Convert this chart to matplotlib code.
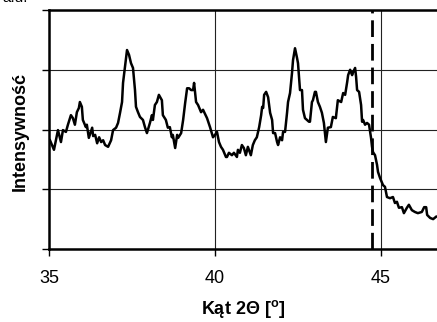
import matplotlib
matplotlib.use("Agg")
import matplotlib.pyplot as plt

plt.rcParams['font.family'] = ['Liberation Sans', 'DejaVu Sans']
plt.rcParams['mathtext.fontset'] = 'custom'
plt.rcParams['mathtext.rm'] = 'Liberation Sans'
plt.rcParams['mathtext.bf'] = 'Liberation Sans:bold'

# 2-theta angle [deg]
angle = [35.03, 35.15, 35.27, 35.36, 35.42, 35.51, 35.57, 35.66, 35.72, 35.78,
         35.84, 35.90, 35.93, 35.99, 36.02, 36.11, 36.14, 36.20, 36.30, 36.33,
         36.39, 36.45, 36.51, 36.57, 36.63, 36.69, 36.78, 36.87, 36.93, 37.02,
         37.08, 37.14, 37.20, 37.23, 37.29, 37.35, 37.41, 37.47, 37.53, 37.59,
         37.62, 37.68, 37.74, 37.83, 37.89, 37.95, 38.04, 38.10, 38.13, 38.19,
         38.25, 38.31, 38.40, 38.43, 38.52, 38.58, 38.64, 38.70, 38.73, 38.80,
         38.86, 38.89, 38.98, 39.04, 39.10, 39.16, 39.22, 39.28, 39.34, 39.37,
         39.43, 39.49, 39.58, 39.64, 39.76, 39.85, 39.94, 40.00, 40.06, 40.12,
         40.18, 40.24, 40.33, 40.36, 40.42, 40.51, 40.57, 40.66, 40.69, 40.75,
         40.81, 40.87, 40.93, 40.99, 41.08, 41.14, 41.20, 41.26, 41.33, 41.39,
         41.42, 41.45, 41.48, 41.54, 41.60, 41.66, 41.72, 41.75, 41.81, 41.87,
         41.90, 41.96, 42.02, 42.05, 42.11, 42.17, 42.20, 42.26, 42.32, 42.35,
         42.41, 42.47, 42.50, 42.56, 42.62, 42.65, 42.71, 42.77, 42.83, 42.86,
         42.92, 42.95, 43.01, 43.04, 43.10, 43.16, 43.22, 43.28, 43.34, 43.40,
         43.49, 43.55, 43.64, 43.70, 43.80, 43.86, 43.92, 43.98, 44.01, 44.07,
         44.13, 44.16, 44.22, 44.25, 44.28, 44.34, 44.40, 44.43, 44.46, 44.52,
         44.58, 44.64, 44.70, 44.73, 44.76, 44.82, 44.88, 44.91, 44.97, 45.06,
         45.12, 45.18, 45.27, 45.36, 45.42, 45.48, 45.54, 45.63, 45.69, 45.78,
         45.84, 45.93, 46.02, 46.11, 46.23, 46.30, 46.36, 46.39, 46.48, 46.57,
         46.66]

# intensity [arbitrary units]
intensity = [1.82, 1.66, 1.99, 1.79, 1.99, 1.96, 2.08, 2.24, 2.19, 2.08,
             2.29, 2.36, 2.46, 2.38, 2.16, 2.04, 2.08, 1.86, 2.03, 1.89,
             1.91, 1.77, 1.87, 1.79, 1.82, 1.74, 1.71, 1.82, 1.99, 2.03,
             2.11, 2.28, 2.46, 2.78, 3.05, 3.33, 3.25, 3.11, 3.03, 2.66,
             2.38, 2.29, 2.21, 2.16, 2.04, 1.94, 2.11, 2.24, 2.16, 2.41,
             2.46, 2.58, 2.49, 2.24, 2.16, 2.03, 2.04, 1.87, 1.91, 1.69,
             1.91, 1.86, 1.94, 2.16, 2.44, 2.69, 2.69, 2.66, 2.66, 2.78,
             2.46, 2.41, 2.29, 2.33, 2.19, 2.04, 1.87, 1.91, 1.96, 1.79,
             1.71, 1.66, 1.54, 1.54, 1.61, 1.57, 1.61, 1.54, 1.66, 1.61,
             1.74, 1.69, 1.57, 1.71, 1.57, 1.74, 1.82, 1.87, 2.04, 2.24,
             2.38, 2.36, 2.58, 2.63, 2.54, 2.28, 2.16, 1.94, 1.94, 1.79,
             1.74, 1.87, 1.82, 1.96, 1.96, 2.28, 2.46, 2.61, 2.95, 3.16,
             3.36, 3.20, 3.11, 2.66, 2.66, 2.33, 2.19, 2.16, 2.13, 2.13,
             2.46, 2.49, 2.63, 2.63, 2.46, 2.38, 2.28, 2.11, 1.79, 2.03,
             2.04, 2.21, 2.19, 2.49, 2.46, 2.61, 2.58, 2.79, 2.91, 3.00,
             2.91, 2.96, 3.03, 2.88, 2.66, 2.63, 2.41, 2.13, 2.16, 2.08,
             2.11, 2.08, 1.86, 1.71, 1.62, 1.57, 1.41, 1.29, 1.19, 1.07,
             1.04, 0.87, 0.85, 0.87, 0.77, 0.79, 0.69, 0.70, 0.60, 0.69,
             0.74, 0.65, 0.62, 0.60, 0.62, 0.70, 0.70, 0.57, 0.52, 0.50,
             0.54]

x_ticks = [35, 40, 45]
x_tick_labels = ["35", "40", "45"]
y_ticks = [0, 1, 2, 3, 4]
marker_angle = 44.72

W, H = 437, 322
fig = plt.figure(figsize=(W / 100, H / 100), dpi=100)
ax = fig.add_axes([49 / W, (H - 249) / H, (W - 49) / W, 239 / H])

ax.plot(angle, intensity, color='black', lw=1.8, solid_joinstyle='round')
ax.axvline(marker_angle, color='black', lw=2.0, dashes=(6, 2.5))

ax.set_xlim(35, 35 + 388 / 33.2)
ax.set_ylim(0, 4)
ax.set_xticks(x_ticks)
ax.set_xticklabels(x_tick_labels, fontsize=13)
ax.set_yticks(y_ticks)
ax.set_yticklabels([])
ax.tick_params(axis='both', direction='out', length=5, width=1, color='black')
ax.tick_params(axis='x', pad=10)

ax.grid(True, color='#222222', lw=0.8)
ax.set_axisbelow(True)

for s in ['top', 'bottom', 'left']:
    ax.spines[s].set_linewidth(1.8)
    ax.spines[s].set_color('black')
ax.spines['right'].set_visible(False)

ax.set_xlabel('Kąt 2Θ [$\\mathbf{^o}$]', fontsize=13, fontweight='bold', labelpad=8)
fig.text(20 / W, (H - 131) / H, 'Intensywność', fontsize=13, fontweight='bold',
         rotation=90, ha='center', va='center')

fig.text(2 / W, (H - 2.5) / H, 'a.u.', fontsize=11, va='baseline', ha='left')

fig.savefig('out.png', dpi=100)
